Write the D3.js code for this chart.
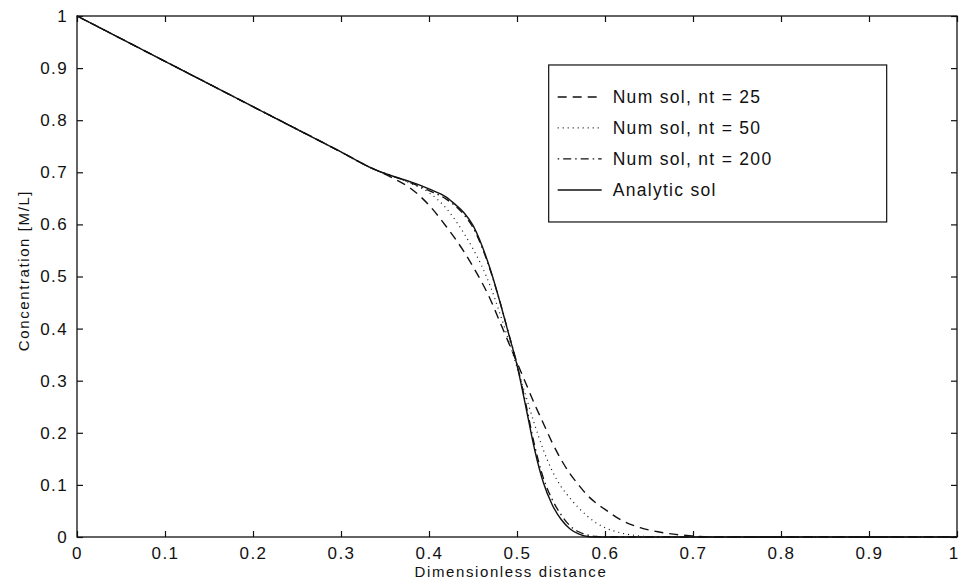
<!DOCTYPE html>
<html>
<head>
<meta charset="utf-8">
<script src="https://cdn.jsdelivr.net/npm/d3@7"></script>
<style>
    body { margin: 0; background: #fff; }
    svg { display: block; font-family: "Liberation Sans", Arial, sans-serif; }
    .tick text { font-size: 17px; letter-spacing: 1.4px; fill: #111; }
    .tick line { stroke: #111; stroke-width: 1.2; }
    .axisLabel { font-size: 15px; letter-spacing: 1.6px; fill: #111; }
    .legendText { font-size: 17.5px; letter-spacing: 1.3px; fill: #111; }
    .chart-line { fill: none; stroke: #111; }
</style>
</head>
<body>
<svg id="chart"></svg>
<script>
// tick values and labels
const xTicks = [0, 0.1, 0.2, 0.3, 0.4, 0.5, 0.6, 0.7, 0.8, 0.9, 1];
const xTickLabels = ['0', '0.1', '0.2', '0.3', '0.4', '0.5', '0.6', '0.7', '0.8', '0.9', '1'];
const yTicks = [0, 0.1, 0.2, 0.3, 0.4, 0.5, 0.6, 0.7, 0.8, 0.9, 1];
const yTickLabels = ['0', '0.1', '0.2', '0.3', '0.4', '0.5', '0.6', '0.7', '0.8', '0.9', '1'];

const seriesNames = ['Num sol, nt = 25', 'Num sol, nt = 50', 'Num sol, nt = 200', 'Analytic sol'];

// Num sol, nt = 25 (dashed)
const xNt25 = [0, 0.1, 0.2, 0.3, 0.33, 0.36, 0.38, 0.40, 0.42, 0.44, 0.45, 0.46, 0.47, 0.48, 0.49, 0.50, 0.51, 0.52, 0.53, 0.54, 0.55, 0.56, 0.57, 0.58, 0.59, 0.60, 0.62, 0.64, 0.66, 0.68, 0.70, 0.72, 1];
const yNt25 = [1, 0.913, 0.826, 0.739, 0.712, 0.688, 0.668, 0.637, 0.595, 0.547, 0.519, 0.489, 0.455, 0.415, 0.375, 0.335, 0.295, 0.255, 0.218, 0.181, 0.149, 0.122, 0.100, 0.080, 0.065, 0.053, 0.031, 0.018, 0.010, 0.005, 0.002, 0, 0];

// Num sol, nt = 50 (dotted)
const xNt50 = [0, 0.1, 0.2, 0.3, 0.34, 0.36, 0.38, 0.40, 0.42, 0.44, 0.45, 0.46, 0.47, 0.48, 0.49, 0.50, 0.51, 0.52, 0.53, 0.54, 0.55, 0.56, 0.57, 0.58, 0.59, 0.60, 0.62, 0.64, 0.66, 1];
const yNt50 = [1, 0.913, 0.826, 0.739, 0.704, 0.692, 0.678, 0.661, 0.630, 0.582, 0.553, 0.520, 0.480, 0.432, 0.380, 0.326, 0.271, 0.216, 0.167, 0.127, 0.097, 0.075, 0.056, 0.040, 0.027, 0.018, 0.007, 0.002, 0, 0];

// Num sol, nt = 200 (dash-dot)
const xNt200 = [0, 0.1, 0.2, 0.3, 0.34, 0.37, 0.40, 0.42, 0.44, 0.45, 0.46, 0.47, 0.48, 0.49, 0.50, 0.51, 0.52, 0.53, 0.54, 0.55, 0.56, 0.57, 0.58, 0.59, 0.60, 1];
const yNt200 = [1, 0.913, 0.826, 0.739, 0.704, 0.686, 0.665, 0.648, 0.618, 0.594, 0.557, 0.510, 0.455, 0.394, 0.332, 0.256, 0.176, 0.113, 0.072, 0.043, 0.022, 0.010, 0.004, 0.001, 0, 0];

// Analytic sol (solid)
const xAnalytic = [0, 0.1, 0.2, 0.3, 0.34, 0.36, 0.38, 0.40, 0.42, 0.43, 0.44, 0.45, 0.46, 0.47, 0.48, 0.49, 0.50, 0.51, 0.52, 0.53, 0.54, 0.55, 0.56, 0.57, 0.58, 0.59, 1];
const yAnalytic = [1, 0.913, 0.826, 0.739, 0.704, 0.692, 0.681, 0.668, 0.652, 0.638, 0.622, 0.598, 0.560, 0.512, 0.455, 0.393, 0.330, 0.250, 0.168, 0.104, 0.062, 0.034, 0.016, 0.006, 0.001, 0, 0];

class ConcentrationChart {
    constructor(_config) {
        this.config = {
            parentElement: _config.parentElement,
            containerWidth: _config.containerWidth || 959,
            containerHeight: _config.containerHeight || 581,
            margin: { top: 16, right: 2, bottom: 44, left: 77 }
        }

        this.initVis();
    }

    initVis() {
        let vis = this;

        vis.width = vis.config.containerWidth - vis.config.margin.left - vis.config.margin.right;
        vis.height = vis.config.containerHeight - vis.config.margin.top - vis.config.margin.bottom;

        vis.xScale = d3.scaleLinear()
            .domain([0, 1])
            .range([0, vis.width]);

        vis.yScale = d3.scaleLinear()
            .domain([0, 1])
            .range([vis.height, 0]);

        vis.svg = d3.select(vis.config.parentElement)
            .attr('width', vis.config.containerWidth)
            .attr('height', vis.config.containerHeight);

        vis.chart = vis.svg.append('g')
            .attr('transform', `translate(${vis.config.margin.left},${vis.config.margin.top})`);

        // ticks point inward on all four sides, like a matlab box
        vis.xAxis = d3.axisBottom(vis.xScale)
            .tickValues(xTicks)
            .tickSize(-6)
            .tickPadding(10)
            .tickFormat((d, i) => xTickLabels[i]);

        vis.xAxisTop = d3.axisTop(vis.xScale)
            .tickValues(xTicks)
            .tickSize(-6)
            .tickFormat('');

        vis.yAxis = d3.axisLeft(vis.yScale)
            .tickValues(yTicks)
            .tickSize(-6)
            .tickPadding(9)
            .tickFormat((d, i) => yTickLabels[i]);

        vis.yAxisRight = d3.axisRight(vis.yScale)
            .tickValues(yTicks)
            .tickSize(-6)
            .tickFormat('');

        vis.chart.append('text')
            .attr('class', 'axisLabel')
            .attr('text-anchor', 'middle')
            .attr('x', vis.width / 2 - 6)
            .attr('y', vis.height + 40)
            .text('Dimensionless distance');

        vis.chart.append('text')
            .attr('class', 'axisLabel')
            .attr('text-anchor', 'middle')
            .attr('transform', `translate(-48, ${vis.height / 2 - 6}) rotate(-90)`)
            .text('Concentration [M/L]');

        vis.updateVis();
    }

    updateVis() {
        let vis = this;

        vis.lines = [
            { x: xNt25, y: yNt25, dash: '9,6', width: 1.4 },
            { x: xNt50, y: yNt50, dash: '1,4', width: 1.2 },
            { x: xNt200, y: yNt200, dash: '1.5,4,8,4', width: 1.3 },
            { x: xAnalytic, y: yAnalytic, dash: null, width: 1.4 }
        ];

        vis.line = d3.line()
            .x(d => vis.xScale(d[0]))
            .y(d => vis.yScale(d[1]))
            .curve(d3.curveMonotoneX);

        vis.renderVis();
    }

    renderVis() {
        let vis = this;

        vis.chart.selectAll('.chart-line')
            .data(vis.lines)
            .join('path')
            .attr('class', 'chart-line')
            .attr('stroke-width', d => d.width)
            .attr('stroke-dasharray', d => d.dash)
            .attr('d', d => vis.line(d.x.map((v, i) => [v, d.y[i]])));

        vis.chart.append('g')
            .attr('class', 'axis x-axis')
            .attr('transform', `translate(0,${vis.height})`)
            .call(vis.xAxis);

        // last x label sits at the window edge, nudge it inside
        vis.chart.selectAll('.x-axis .tick:last-of-type text')
            .attr('text-anchor', 'end')
            .attr('dx', 2);

        vis.chart.append('g')
            .attr('class', 'axis x-axis-top')
            .call(vis.xAxisTop);

        vis.chart.append('g')
            .attr('class', 'axis y-axis')
            .call(vis.yAxis);

        vis.chart.append('g')
            .attr('class', 'axis y-axis-right')
            .attr('transform', `translate(${vis.width},0)`)
            .call(vis.yAxisRight);

        vis.chart.selectAll('.domain').remove();

        // box around the plot area
        vis.chart.append('rect')
            .attr('width', vis.width)
            .attr('height', vis.height)
            .attr('fill', 'none')
            .attr('stroke', '#111')
            .attr('stroke-width', 1.3);

        // Legend box with sample lines
        vis.legend = vis.chart.append('g')
            .attr('class', 'lineLegend')
            .attr('transform', `translate(${vis.xScale(0.536)}, ${vis.yScale(0.906)})`);

        vis.legend.append('rect')
            .attr('width', 338)
            .attr('height', 157)
            .attr('fill', '#fff')
            .attr('stroke', '#111')
            .attr('stroke-width', 1.2);

        seriesNames.forEach((name, i) => {
            let rowY = 32 + i * 31;
            vis.legend.append('line')
                .attr('x1', 9)
                .attr('x2', 53)
                .attr('y1', rowY)
                .attr('y2', rowY)
                .attr('stroke', '#111')
                .attr('stroke-width', vis.lines[i].width)
                .attr('stroke-dasharray', vis.lines[i].dash);

            vis.legend.append('text')
                .attr('class', 'legendText')
                .attr('x', 64)
                .attr('y', rowY + 6)
                .text(name);
        });
    }
}

new ConcentrationChart({ parentElement: '#chart' });
</script>
</body>
</html>
